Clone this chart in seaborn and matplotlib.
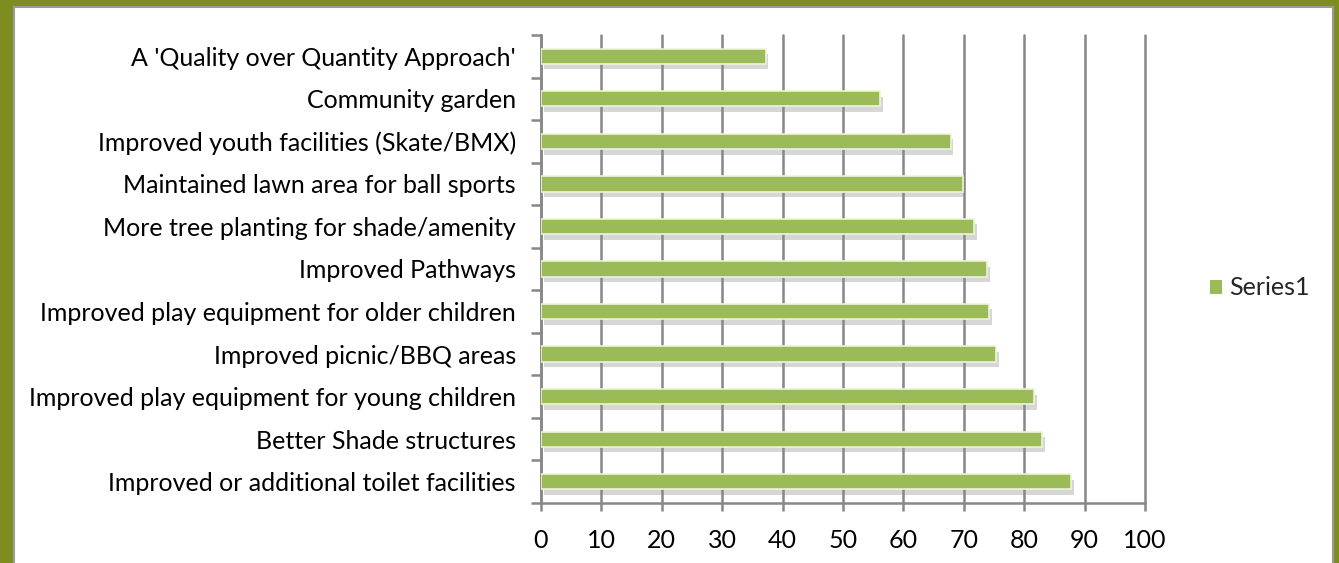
import matplotlib
matplotlib.use("Agg")
import matplotlib.pyplot as plt
import matplotlib.patheffects as pe
from matplotlib.patches import Rectangle
import pandas as pd
import seaborn as sns

sns.set_style("white")
plt.rcParams['font.family'] = ['Lato', 'DejaVu Sans']

categories = [
    "A 'Quality over Quantity Approach'",
    "Community garden",
    "Improved youth facilities (Skate/BMX)",
    "Maintained lawn area for ball sports",
    "More tree planting for shade/amenity",
    "Improved Pathways",
    "Improved play equipment for older children",
    "Improved picnic/BBQ areas",
    "Improved play equipment for young children",
    "Better Shade structures",
    "Improved or additional toilet facilities",
]
values = [37.2, 56.1, 67.8, 69.8, 71.7, 73.9, 74.2, 75.3, 81.7, 83.0, 87.8]
xticks = list(range(0, 101, 10))

df = pd.DataFrame({"item": categories, "score": values})

green = "#9bbb59"
olive = "#7f8c1f"
grey = "#878787"
fs = 18

fig = plt.figure(figsize=(13.39, 5.63), dpi=100)
fig.patch.set_facecolor(olive)
fig.patches.append(Rectangle((14 / 1339, -0.05), 1319 / 1339, 1.05 - 7 / 563,
                             transform=fig.transFigure, facecolor="white",
                             edgecolor="#9a9a9a", linewidth=1.5, zorder=-5))

ax = fig.add_axes([541 / 1339, 1 - 503 / 563, 604 / 1339, 468 / 563])
ax.set_facecolor("none")
ax.set_zorder(2)

sns.barplot(data=df, x="score", y="item", orient="h", color=green,
            width=0.36, saturation=1, ax=ax, label="Series1", zorder=3)

for bar in ax.patches:
    bar.set_path_effects([pe.SimplePatchShadow(offset=(2, -4), shadow_rgbFace="#8a8a8a", alpha=0.35),
                          pe.Normal()])
    bar.set_edgecolor("#eef3d6")
    bar.set_linewidth(1.2)

ax.set_xlim(0, 100)
ax.set_ylim(len(categories) - 0.5, -0.5)
ax.set_xticks(xticks)
ax.set_xlabel("")
ax.set_ylabel("")

# category separators as minor ticks, labels centred between them
ax.set_yticks([i - 0.5 for i in range(len(categories) + 1)], minor=True)
ax.tick_params(axis="y", which="major", length=0, pad=18, labelsize=fs, labelcolor="black")
ax.tick_params(axis="y", which="minor", length=7, width=1.8, color=grey, direction="out", left=True)
ax.tick_params(axis="x", which="major", length=6, width=1.8, color=grey, direction="out",
               bottom=True, pad=13, labelsize=fs, labelcolor="black")

ax.grid(axis="x", color=grey, linewidth=1.8, zorder=1)
for gl in ax.xaxis.get_gridlines():
    gl.set_clip_on(False)
ax.set_axisbelow(True)
for s in ["top", "right"]:
    ax.spines[s].set_visible(False)
for s in ["left", "bottom"]:
    ax.spines[s].set_color(grey)
    ax.spines[s].set_linewidth(1.8)

h, l = ax.get_legend_handles_labels()
if ax.get_legend() is not None:
    ax.get_legend().remove()
leg = fig.legend(h, l, loc="center left", bbox_to_anchor=(1210 / 1339, 0.4885), frameon=False,
                 fontsize=fs, handlelength=0.48, handleheight=0.48, handletextpad=0.3,
                 borderpad=0, borderaxespad=0)
for hd in leg.legend_handles:
    hd.set_path_effects([])
    hd.set_edgecolor("none")

fig.savefig("out.png", dpi=100, facecolor=olive)
